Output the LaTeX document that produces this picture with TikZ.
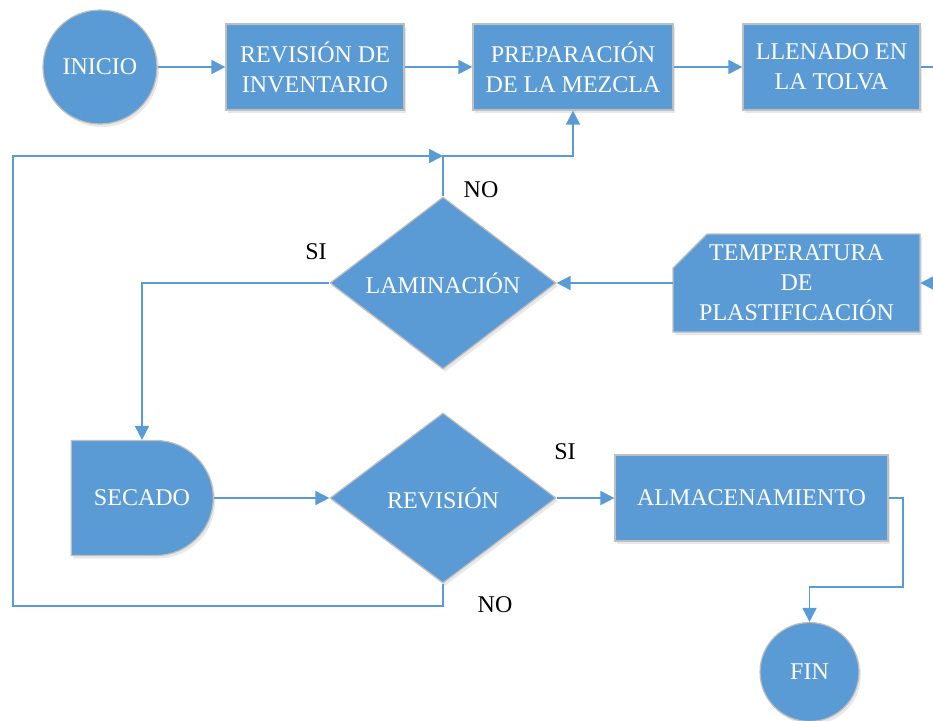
\documentclass[tikz,border=0pt]{standalone}
\usepackage{fontspec}
\setmainfont{Liberation Serif}
\usetikzlibrary{arrows.meta,shapes.geometric,shapes.misc,shadows}
\definecolor{flowblue}{HTML}{5B9BD5}
\definecolor{edgegrey}{HTML}{BEBEBE}
\begin{document}
\begin{tikzpicture}[x=1pt,y=-1pt,
  boxlook/.style={fill=flowblue,draw=edgegrey,line width=1.2pt,
    drop shadow={opacity=0.18,shadow xshift=2pt,shadow yshift=-3pt}},
  block/.style={boxlook,text=white,
    font=\fontsize{24}{30}\selectfont,align=center,inner sep=0pt},
  label/.style={text=white,font=\fontsize{24}{30}\selectfont,align=center,inner sep=0pt},
  procbox/.style={block,rectangle},
  terminal/.style={block,circle},
  decision/.style={block,diamond,aspect=1.3},
  flow/.style={draw=flowblue,line width=1.8pt},
  arrow/.style={flow,-{Triangle[length=14pt,width=14pt]}},
  tag/.style={font=\fontsize{24}{30}\selectfont,text=black,inner sep=0pt}]
\useasboundingbox (0,0) rectangle (933,720);

% main shapes
\node[terminal,minimum size=114pt] (inicio) at (100,67) {INICIO};
\node[procbox,minimum width=178pt,minimum height=86pt] (revinv) at (315,67) {REVISIÓN DE\\INVENTARIO};
\node[procbox,minimum width=200pt,minimum height=86pt] (prep) at (573,67) {PREPARACIÓN\\DE LA MEZCLA};
\node[procbox,minimum width=177pt,minimum height=86pt] (llen) at (831.5,67) {LLENADO EN\\LA TOLVA};
% manual-input card with a cut top-left corner
\path[boxlook] (673,332) -- (673,268) -- (707,234) -- (920,234) -- (920,332) -- cycle;
\node[label,minimum width=247pt,minimum height=98pt] (temp) at (796.5,283) {TEMPERATURA\\DE\\PLASTIFICACIÓN};
\node[decision,minimum width=226pt,minimum height=172pt] (lam) at (443,283) {LAMINACIÓN};
\node[block,rounded rectangle,rounded rectangle left arc=none,
  minimum width=142pt,minimum height=115pt] (secado) at (142,498) {SECADO};
\node[decision,minimum width=226pt,minimum height=170pt] (rev) at (443,498) {REVISIÓN};
\node[procbox,minimum width=273pt,minimum height=86pt] (alm) at (751.5,498) {ALMACENAMIENTO};
\node[terminal,minimum size=99pt] (fin) at (809.5,672) {FIN};

% junctions and free ends
\coordinate (jn) at (443,156);
\coordinate (lb) at (13,606);
\coordinate (lt) at (13,156);
\coordinate (r1) at (903,587);
\coordinate (outr) at (933,67);
\coordinate (inr) at (933,283);

% connectors
\draw[arrow] (inicio.east) -- (revinv.west);
\draw[arrow] (revinv.east) -- (prep.west);
\draw[arrow] (prep.east) -- (llen.west);
\draw[flow] (llen.east) -- (outr);
\draw[arrow] (inr) -- (temp.east);
\draw[arrow] (temp.west) -- (lam.east);
\draw[arrow] (lam.north) -- (jn) -| (prep.south);
\draw[arrow] (lam.west) -| (secado.north);
\draw[arrow] (secado.east) -- (rev.west);
\draw[arrow] (rev.east) -- (alm.west);
\draw[arrow] (alm.east) -| (r1) -| (fin.north);
\draw[arrow] (rev.south) |- (lb) -- (lt) -- (jn);

% branch labels
\node[tag] (no1) at (481,190) {NO};
\node[tag] (si1) at (316,252) {SI};
\node[tag] (si2) at (565,452) {SI};
\node[tag] (no2) at (495,605) {NO};
\end{tikzpicture}
\end{document}
